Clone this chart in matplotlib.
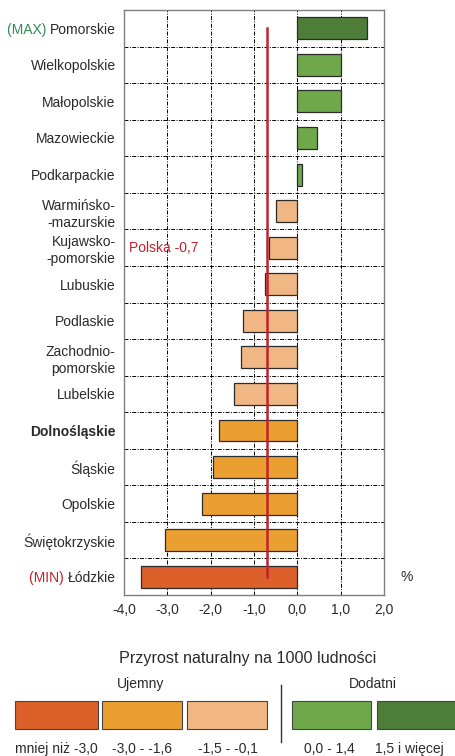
import numpy as np
import matplotlib.pyplot as plt
from matplotlib.patches import Rectangle

plt.rcParams['font.family'] = ['Liberation Sans', 'DejaVu Sans']

regions = ['Pomorskie', 'Wielkopolskie', 'Małopolskie', 'Mazowieckie', 'Podkarpackie',
           'Warmińsko-\n-mazurskie', 'Kujawsko-\n-pomorskie', 'Lubuskie', 'Podlaskie',
           'Zachodnio-\npomorskie', 'Lubelskie', 'Dolnośląskie', 'Śląskie', 'Opolskie',
           'Świętokrzyskie', 'Łódzkie']
values = [1.6, 1.0, 1.0, 0.45, 0.1, -0.5, -0.65, -0.75, -1.25, -1.3, -1.45, -1.8, -1.95, -2.2, -3.05, -3.6]
polska = -0.7
xticks = [-4.0, -3.0, -2.0, -1.0, 0.0, 1.0, 2.0]

class_labels = ['mniej niż -3,0', '-3,0 - -1,6', '-1,5 - -0,1', '0,0 - 1,4', '1,5 i więcej']
class_colors = ['#dc6029', '#eb9f30', '#f0b683', '#6fa84b', '#4e7d3a']
class_edges = [-99, -3.06, -1.55, -0.05, 1.45, 99]

txt = '#2a2a2a'


def klasa(v):
    for i in range(5):
        if class_edges[i] < v <= class_edges[i + 1]:
            return i
    return 4


fig = plt.figure(figsize=(4.56, 7.56), dpi=100)
ax = fig.add_axes([124/456, 1 - 595/756, 260/456, 585/756])

y = np.arange(len(regions))
cols = [class_colors[klasa(v)] for v in values]
ax.barh(y, values, height=0.6, color=cols, edgecolor='#2b2b2b', linewidth=0.9, zorder=3)

ax.set_xlim(-4, 2)
ax.set_ylim(len(regions) - 0.5, -0.5)

# siatka
for x in xticks[1:-1]:
    ax.axvline(x, color='black', lw=0.7, ls=(0, (4, 1.5, 1, 1.5)), zorder=1)
for yy in y[:-1]:
    ax.axhline(yy + 0.5, color='black', lw=0.7, ls=(0, (4, 1.5, 1, 1.5)), zorder=1)

ax.plot([polska, polska], [0, len(regions) - 1], color='#c0222c', lw=1.8, zorder=4)
ax.text(-3.88, 6, 'Polska -0,7', color='#c0222c', fontsize=10, va='center', ha='left')

ax.set_xticks(xticks)
ax.set_xticklabels([('%.1f' % t).replace('.', ',') for t in xticks], fontsize=10, color=txt)
ax.set_yticks(y)
ax.set_yticklabels(regions, fontsize=10, color=txt, linespacing=1.3)
ax.tick_params(length=0, pad=6)
ax.get_yticklabels()[11].set_fontweight('bold')
for s in ax.spines.values():
    s.set_color('#7f7f7f')
    s.set_linewidth(1.0)

ax.text(1.065, 0.03, '%', transform=ax.transAxes, fontsize=10, color=txt, ha='left', va='center')

# (MAX) / (MIN) przed nazwami
fig.canvas.draw()
r = fig.canvas.get_renderer()
for idx, tag, c in [(0, '(MAX) ', '#2e8b57'), (15, '(MIN) ', '#c0222c')]:
    bb = ax.get_yticklabels()[idx].get_window_extent(r)
    fig.text(bb.x0 / 456, (bb.y0 + bb.y1) / 2 / 756, tag, color=c, fontsize=10,
             ha='right', va='center')

# legenda
lax = fig.add_axes([0, 0, 1, 116/756])
lax.set_xlim(0, 456)
lax.set_ylim(116, 0)
lax.axis('off')
lax.text(248, 18, 'Przyrost naturalny na 1000 ludności', fontsize=11.6, color=txt, ha='center', va='center')
lax.text(141, 44, 'Ujemny', fontsize=10, color=txt, ha='center', va='center')
lax.text(373, 44, 'Dodatni', fontsize=10, color=txt, ha='center', va='center')
lax.plot([281, 281], [45, 102], color='#333333', lw=1)
box_x = [15, 102, 187, 292, 377]
box_w = [83, 80, 80, 79, 83]
lab_x = [56, 142, 228, 329, 409]
for i in range(5):
    lax.add_patch(Rectangle((box_x[i], 61), box_w[i], 28, facecolor=class_colors[i],
                            edgecolor='#444444', lw=0.8, clip_on=False))
    lax.text(lab_x[i], 113, class_labels[i], fontsize=10, color=txt, ha='center', va='baseline')

fig.savefig('out.png', dpi=100)
